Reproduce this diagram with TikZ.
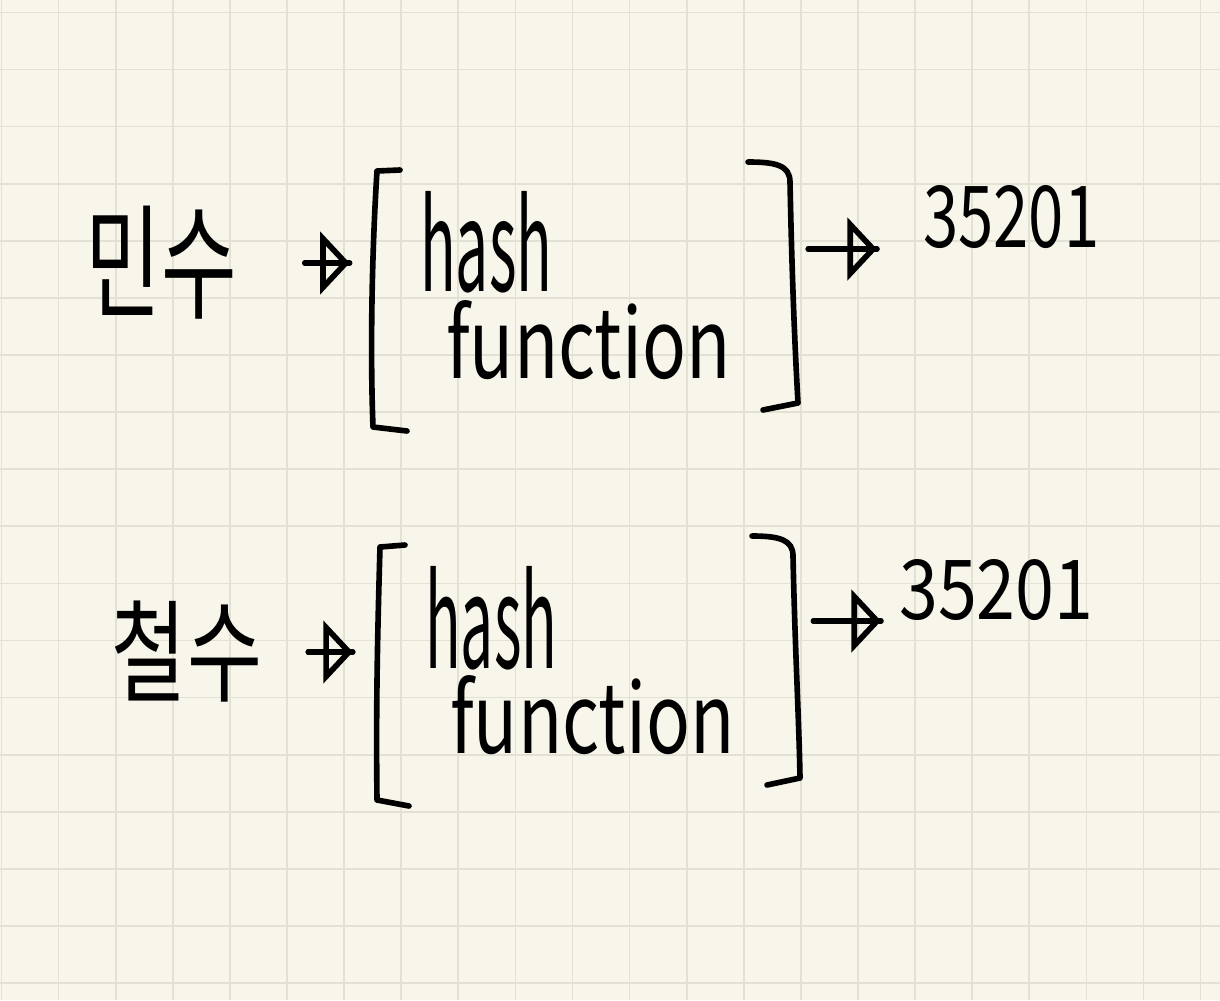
\documentclass[tikz,border=0pt]{standalone}
\usepackage{fontspec}
\setmainfont{Noto Sans CJK KR}
\usepackage{graphicx}
\usetikzlibrary{positioning,arrows.meta}

\definecolor{paper}{HTML}{F8F5EA}
\definecolor{gridline}{HTML}{E3E0D4}

\begin{document}
\begin{tikzpicture}[x=0.025cm, y=-0.025cm,
    ink/.style={line width=4pt, line cap=round, line join=round, black},
    flow/.style={ink, -{Triangle[open, length=21pt, width=44pt, line width=4pt]},
        postaction={draw, ink, arrows=-}},
    word/.style={inner sep=0pt, anchor=south west},
    keybox/.style={inner sep=0pt},
    fnbox/.style={inner sep=0pt, minimum width=10.4cm, minimum height=6.6cm}]

    % paper with grid
    \useasboundingbox (0,0) rectangle (1220,1000);
    \fill[paper] (0,0) rectangle (1220,1000);
    \foreach \i in {0,...,21} {
        \draw[gridline, line width=1.2pt] (1.5+57.1*\i, 0) -- (1.5+57.1*\i, 1000);
    }
    \foreach \j in {0,...,17} {
        \draw[gridline, line width=1.2pt] (0, 12.4+57.1*\j) -- (1220, 12.4+57.1*\j);
    }

    % Top row
    \node[keybox] (nameA) at (161,263) {\resizebox*{3.78cm}{2.83cm}{민수}};
    \node[fnbox] (boxA) at (584,298) {};
    \node[word] (hashA) at (420,293) {\resizebox{3.3cm}{2.5cm}{hash}};
    \node[word] (funcA) at (446,380) {\resizebox{7.1cm}{1.95cm}{function}};
    \node[word] (outA) at (923,249) {\resizebox{4.4cm}{1.55cm}{35201}};

    \draw[ink] (400,170) -- (377,171) .. controls (372,250) and (370,350) .. (373,427) -- (407,431);
    \draw[ink] (748,162) .. controls (775,162) and (790,165) .. (790,182)
        .. controls (792,280) and (795,350) .. (798,403) -- (763,410);

    \draw[flow, shorten <=1.7cm, shorten >=0.65cm] (nameA) -- (nameA -| boxA.west);
    \draw[flow, shorten <=0.4cm, shorten >=1.15cm] (boxA.east |- outA.south west) -- (outA.south west);

    % Bottom row
    \node[keybox] (nameB) at (187,652) {\resizebox*{3.75cm}{2.53cm}{철수}};
    \node[fnbox, minimum width=10.5cm, minimum height=6.6cm] (boxB) at (588,672) {};
    \node[word] (hashB) at (425,670) {\resizebox{3.3cm}{2.55cm}{hash}};
    \node[word] (funcB) at (450,755) {\resizebox{7.1cm}{1.95cm}{function}};
    \node[word] (outB) at (899,621) {\resizebox{4.85cm}{1.5cm}{35201}};

    \draw[ink] (405,545) -- (380,547) .. controls (377,650) and (376,720) .. (377,800) -- (409,806);
    \draw[ink] (752,536) .. controls (780,536) and (793,540) .. (793,556)
        .. controls (795,650) and (799,720) .. (800,778) -- (767,785);

    \draw[flow, shorten <=1.15cm, shorten >=0.62cm] (nameB) -- (nameB -| boxB.west);
    \draw[flow, shorten <=0.38cm, shorten >=0.45cm] (boxB.east |- outB.south west) -- (outB.south west);
\end{tikzpicture}
\end{document}
